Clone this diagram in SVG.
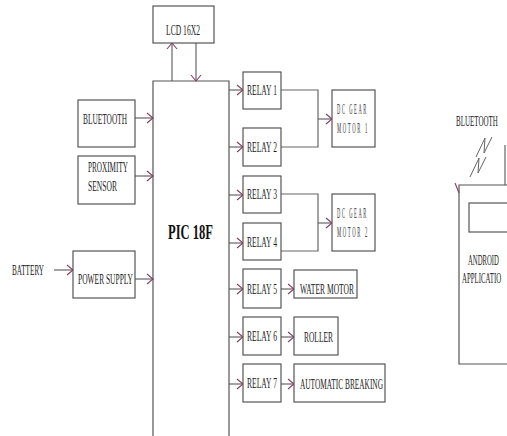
<svg xmlns="http://www.w3.org/2000/svg" width="507" height="436" viewBox="0 0 507 436">
<style>
.box{fill:#fff;stroke:#555;stroke-width:1.2}
.ln{fill:none;stroke:#666;stroke-width:1.2}
.ar{fill:none;stroke:#666;stroke-width:1.2;marker-end:url(#ah)}
.t{font-family:"Liberation Serif","Times New Roman",serif;font-size:14px;fill:#222}
.s{font-family:"Liberation Serif","Times New Roman",serif;font-size:14px;fill:#333;letter-spacing:5px}
.b{font-family:"Liberation Serif","Times New Roman",serif;font-size:21px;font-weight:bold;fill:#111}
</style>
<defs>
<marker id="ah" markerUnits="userSpaceOnUse" markerWidth="8" markerHeight="12" viewBox="0 0 8 12" refX="7" refY="6" orient="auto">
<path d="M1,1 L7,6 L1,11" fill="none" stroke="#8b3a62" stroke-width="1.1"/>
</marker>
</defs>
<rect width="507" height="436" fill="#fff"/>

<g id="connectors">
<line class="ar" x1="172" y1="81" x2="172" y2="43"/>
<line class="ar" x1="196" y1="43" x2="196" y2="81"/>
<line class="ar" x1="135" y1="118" x2="153" y2="118"/>
<line class="ar" x1="135" y1="176" x2="153" y2="176"/>
<line class="ar" x1="54" y1="270" x2="73" y2="270"/>
<line class="ar" x1="135" y1="279" x2="153" y2="279"/>
<line class="ar" x1="229" y1="90" x2="243" y2="90"/>
<line class="ar" x1="229" y1="147" x2="243" y2="147"/>
<line class="ar" x1="229" y1="195" x2="243" y2="195"/>
<line class="ar" x1="229" y1="243" x2="243" y2="243"/>
<line class="ar" x1="229" y1="289" x2="243" y2="289"/>
<line class="ar" x1="229" y1="337" x2="243" y2="337"/>
<line class="ar" x1="229" y1="384" x2="243" y2="384"/>
<polyline class="ln" points="281,90 318,90 318,147 281,147"/>
<line class="ar" x1="318" y1="119" x2="332" y2="119"/>
<polyline class="ln" points="281,194 318,194 318,251 281,251"/>
<line class="ar" x1="318" y1="223" x2="332" y2="223"/>
<line class="ar" x1="281" y1="289" x2="294" y2="289"/>
<line class="ar" x1="281" y1="337" x2="294" y2="337"/>
<line class="ar" x1="281" y1="384" x2="294" y2="384"/>
<polyline class="ln" style="stroke-width:1" points="476,157 485,138 484,153 492,137"/>
<polyline class="ln" style="stroke-width:1" points="470,177 479,158 478,173 486,157"/>
<line class="ln" x1="505" y1="145" x2="505" y2="185"/>
<line x1="455" y1="183" x2="459" y2="193" stroke="#8b3a62" stroke-width="1.1"/>
</g>

<g id="lcd"><rect class="box" x="153" y="6" width="61" height="37"/><text class="t" x="166" y="35" textLength="34" lengthAdjust="spacingAndGlyphs">LCD 16X2</text></g>
<g id="pic"><path class="box" d="M153,436 L153,81 L229,81 L229,436" style="fill:none"/><text class="b" x="168" y="239" textLength="45" lengthAdjust="spacingAndGlyphs">PIC 18F</text></g>
<g id="bluetooth"><rect class="box" x="78" y="100" width="57" height="47"/><text class="t" x="83" y="124" textLength="44" lengthAdjust="spacingAndGlyphs">BLUETOOTH</text></g>
<g id="proximity"><rect class="box" x="78" y="156" width="57" height="48"/><text class="t" x="88" y="172" textLength="40" lengthAdjust="spacingAndGlyphs">PROXIMITY</text><text class="t" x="88" y="191" textLength="29" lengthAdjust="spacingAndGlyphs">SENSOR</text></g>
<g id="battery"><text class="t" x="12" y="275" textLength="32" lengthAdjust="spacingAndGlyphs">BATTERY</text></g>
<g id="power"><rect class="box" x="73" y="251" width="62" height="47"/><text class="t" x="78" y="284" textLength="55" lengthAdjust="spacingAndGlyphs">POWER SUPPLY</text></g>
<g id="relay1"><rect class="box" x="243" y="72" width="38" height="37"/><text class="t" x="247" y="95" textLength="30" lengthAdjust="spacingAndGlyphs">RELAY 1</text></g>
<g id="relay2"><rect class="box" x="243" y="128" width="38" height="38"/><text class="t" x="247" y="152" textLength="30" lengthAdjust="spacingAndGlyphs">RELAY 2</text></g>
<g id="relay3"><rect class="box" x="243" y="176" width="38" height="37"/><text class="t" x="247" y="199" textLength="30" lengthAdjust="spacingAndGlyphs">RELAY 3</text></g>
<g id="relay4"><rect class="box" x="243" y="223" width="38" height="37"/><text class="t" x="247" y="247" textLength="30" lengthAdjust="spacingAndGlyphs">RELAY 4</text></g>
<g id="relay5"><rect class="box" x="243" y="269" width="38" height="39"/><text class="t" x="247" y="294" textLength="30" lengthAdjust="spacingAndGlyphs">RELAY 5</text></g>
<g id="relay6"><rect class="box" x="243" y="317" width="38" height="38"/><text class="t" x="247" y="341" textLength="30" lengthAdjust="spacingAndGlyphs">RELAY 6</text></g>
<g id="relay7"><rect class="box" x="243" y="364" width="38" height="38"/><text class="t" x="247" y="388" textLength="30" lengthAdjust="spacingAndGlyphs">RELAY 7</text></g>
<g id="motor1"><rect class="box" x="332" y="90" width="43" height="57"/><text class="s" x="337" y="114" textLength="31" lengthAdjust="spacingAndGlyphs">DC GEAR</text><text class="s" x="337" y="133" textLength="32" lengthAdjust="spacingAndGlyphs">MOTOR 1</text></g>
<g id="motor2"><rect class="box" x="332" y="194" width="43" height="57"/><text class="s" x="337" y="218" textLength="31" lengthAdjust="spacingAndGlyphs">DC GEAR</text><text class="s" x="337" y="237" textLength="32" lengthAdjust="spacingAndGlyphs">MOTOR 2</text></g>
<g id="water"><rect class="box" x="294" y="270" width="63" height="28"/><text class="t" x="300" y="294" textLength="54" lengthAdjust="spacingAndGlyphs">WATER MOTOR</text></g>
<g id="roller"><rect class="box" x="294" y="317" width="44" height="38"/><text class="t" x="304" y="342" textLength="29" lengthAdjust="spacingAndGlyphs">ROLLER</text></g>
<g id="braking"><rect class="box" x="294" y="364" width="91" height="38"/><text class="t" x="300" y="389" textLength="83" lengthAdjust="spacingAndGlyphs">AUTOMATIC BREAKING</text></g>
<g id="bt-label"><text class="t" transform="translate(456,126) scale(0.5,1)">BLUETOOTH</text></g>
<g id="android"><path class="box" d="M508,185 L459,185 L459,364 L508,364" style="fill:none"/><rect class="box" x="469" y="203" width="45" height="29"/><text class="t" transform="translate(468,265) scale(0.48,1)">ANDROID</text><text class="t" transform="translate(462,283) scale(0.49,1)">APPLICATIO</text></g>
</svg>
